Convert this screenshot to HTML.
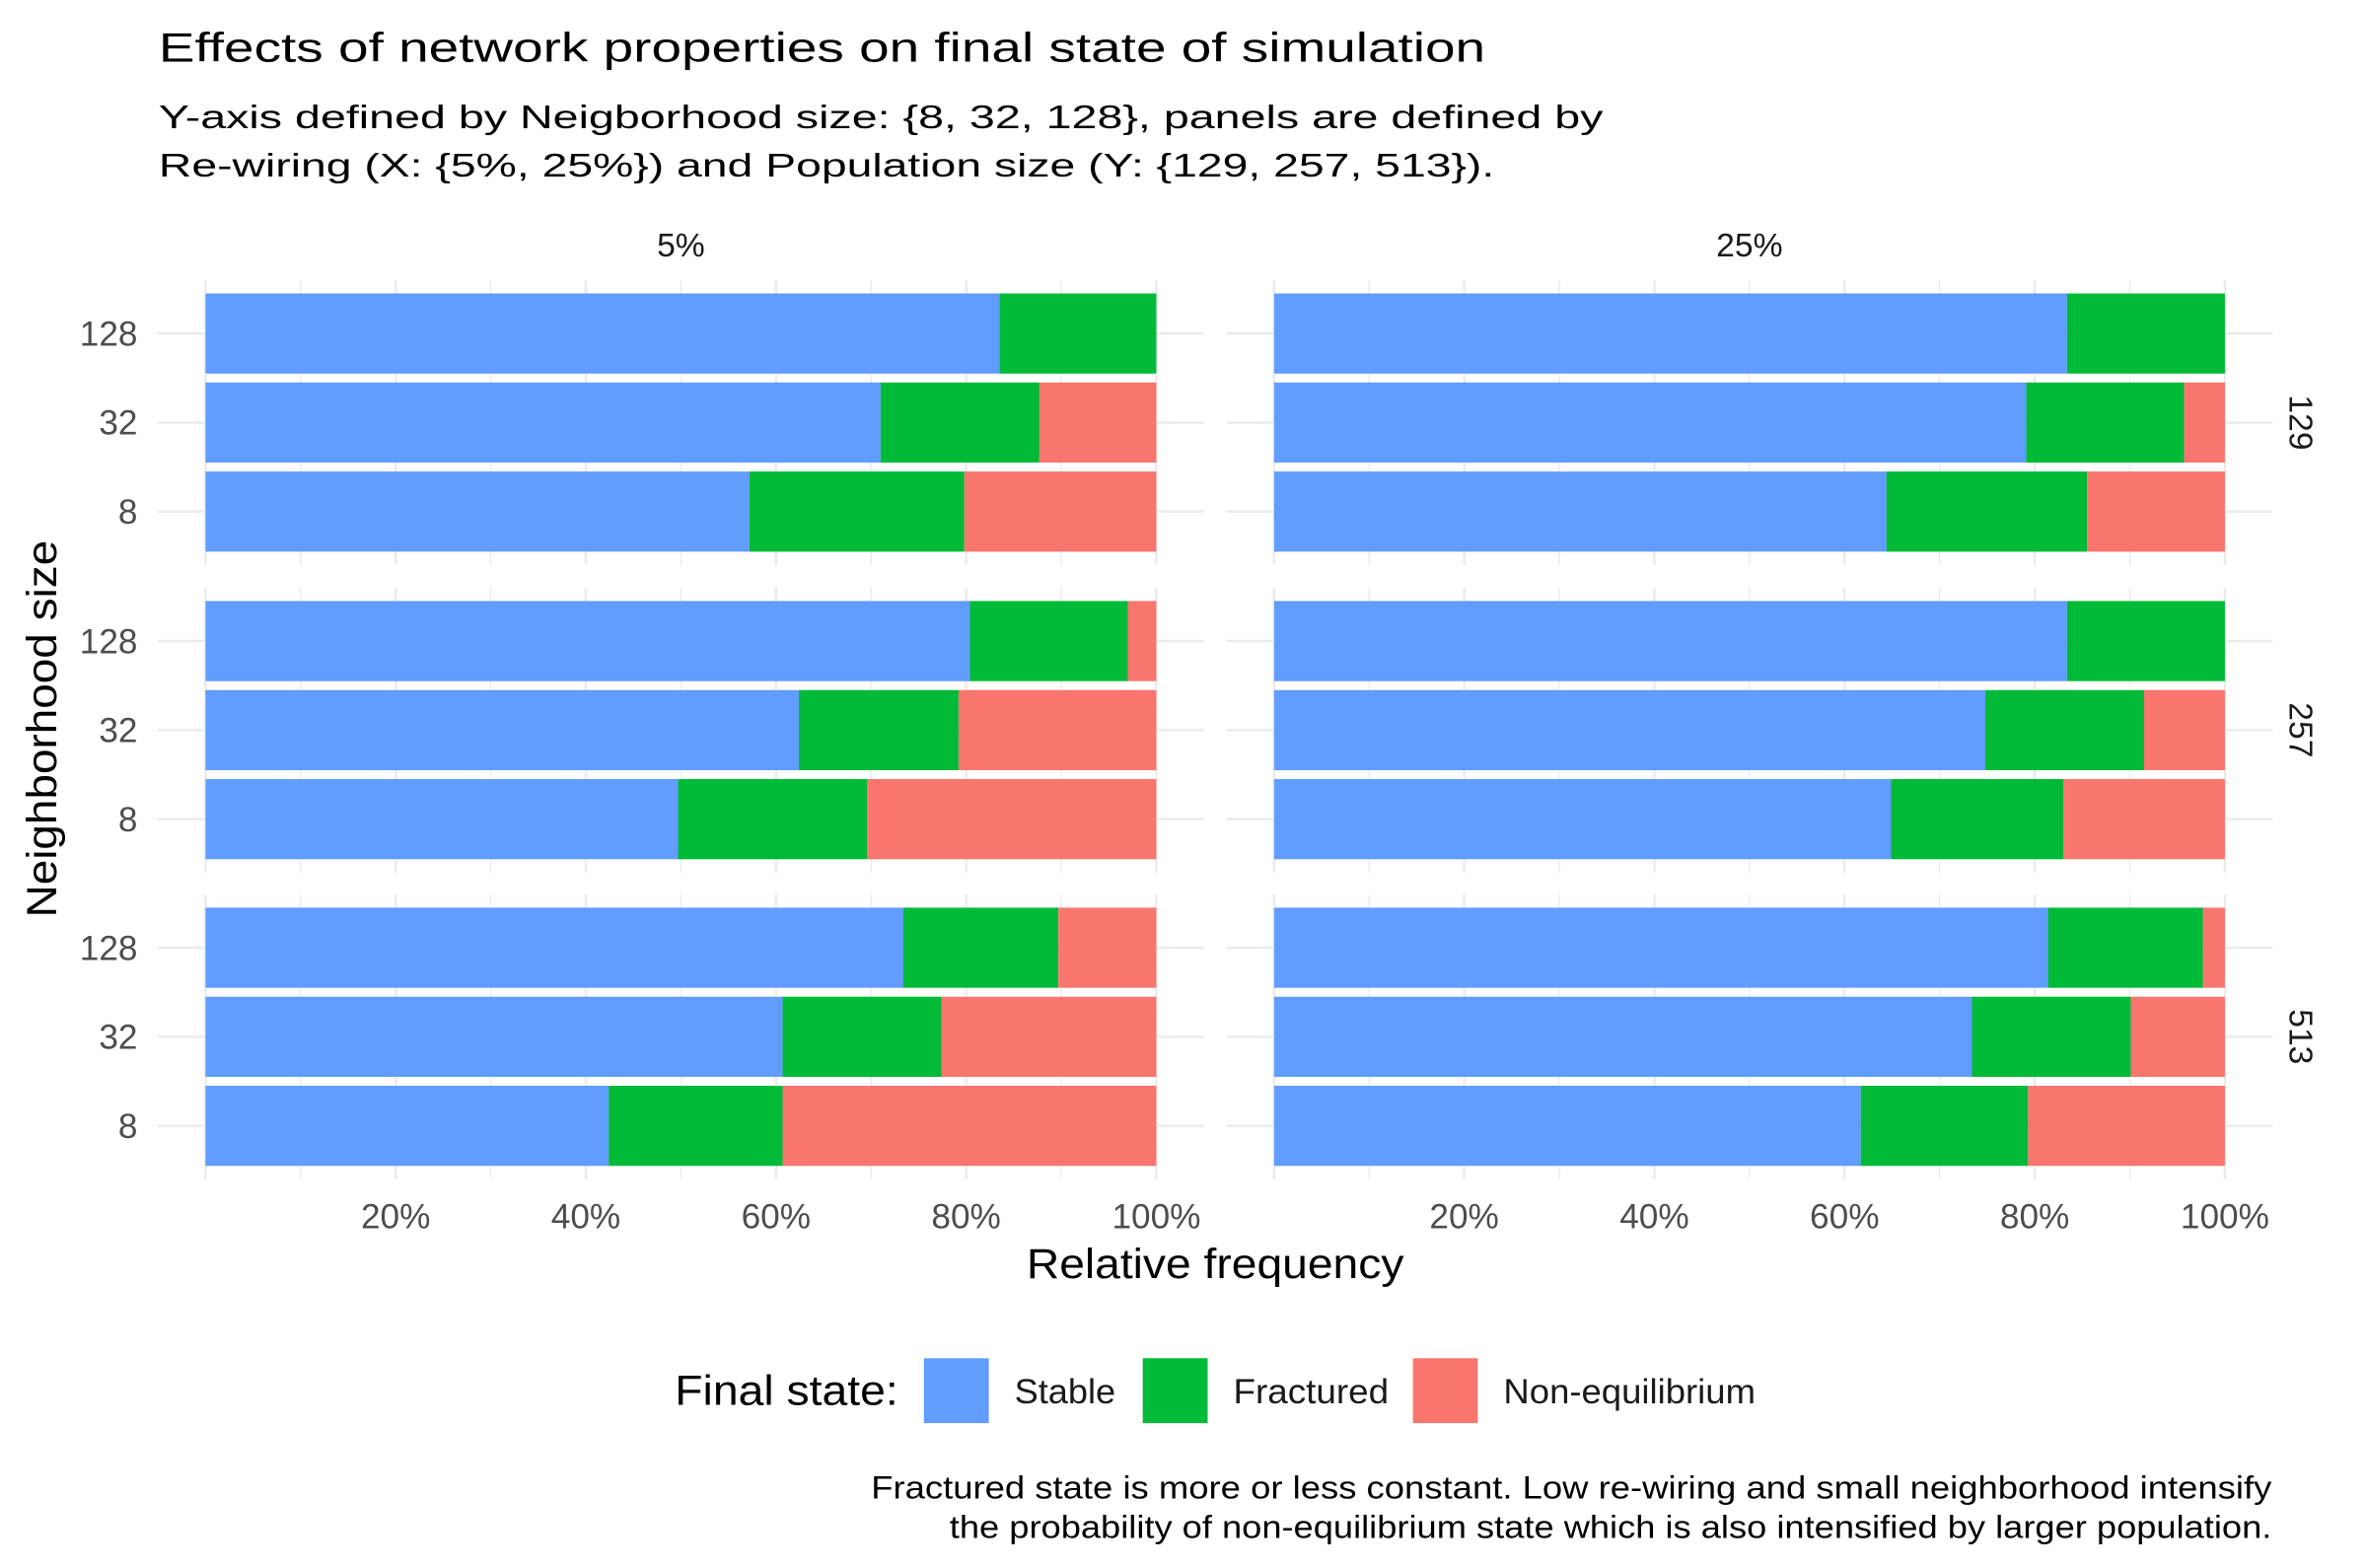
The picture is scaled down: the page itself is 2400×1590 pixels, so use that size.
<!DOCTYPE html>
<html><head><meta charset="utf-8"><style>
html,body{margin:0;padding:0;background:#fff;}
svg{display:block;font-family:"Liberation Sans",Arial,sans-serif;}
</style></head><body>
<svg id="chart" width="2400" height="1590" viewBox="0 0 1568 1039" xmlns="http://www.w3.org/2000/svg">
<rect width="1568" height="1039" fill="#fff"/>
<text x="105" y="41" font-size="27" fill="#000" textLength="879" lengthAdjust="spacingAndGlyphs">Effects of network properties on final state of simulation</text>
<text x="105" y="85" font-size="22" fill="#000" textLength="957" lengthAdjust="spacingAndGlyphs">Y-axis defined by Neigborhood size: {8, 32, 128}, panels are defined by</text>
<text x="105" y="117" font-size="22" fill="#000" textLength="885" lengthAdjust="spacingAndGlyphs">Re-wiring (X: {5%, 25%}) and Population size (Y: {129, 257, 513}).</text>
<g id="plot"></g>
<text transform="translate(37,483) rotate(-90)" text-anchor="middle" font-size="28" fill="#000" textLength="250" lengthAdjust="spacingAndGlyphs">Neighborhood size</text>
<text x="805" y="847" text-anchor="middle" font-size="28" fill="#000" textLength="250" lengthAdjust="spacingAndGlyphs">Relative frequency</text>
<g>
<text x="447" y="931" font-size="28" fill="#000" textLength="148" lengthAdjust="spacingAndGlyphs">Final state:</text>
<rect x="612" y="900" width="43" height="43" fill="#619CFF"/>
<text x="672" y="930" font-size="23" fill="#1a1a1a" textLength="67" lengthAdjust="spacingAndGlyphs">Stable</text>
<rect x="757" y="900" width="43" height="43" fill="#00BA38"/>
<text x="817" y="930" font-size="23" fill="#1a1a1a" textLength="103" lengthAdjust="spacingAndGlyphs">Fractured</text>
<rect x="936" y="900" width="43" height="43" fill="#F8766D"/>
<text x="996" y="930" font-size="23" fill="#1a1a1a" textLength="167" lengthAdjust="spacingAndGlyphs">Non-equilibrium</text>
</g>
<text x="577" y="993" font-size="21" fill="#000" textLength="928" lengthAdjust="spacingAndGlyphs">Fractured state is more or less constant. Low re-wiring and small neighborhood intensify</text>
<text x="629" y="1019" font-size="21" fill="#000" textLength="876" lengthAdjust="spacingAndGlyphs">the probability of non-equilibrium state which is also intensified by larger population.</text>
</svg>
<script>
const rewiring = ["5%", "25%"];
const population = ["129", "257", "513"];
const neighborhood = ["128", "32", "8"];
const xTicks = [20, 40, 60, 80, 100];
const xTickLabels = ["20%", "40%", "60%", "80%", "100%"];
// stable[population][neighborhood]
const stable5 = [[83.5, 71.0, 57.2], [80.4, 62.4, 49.7], [73.4, 60.7, 42.4]];
const fractured5 = [[16.5, 16.7, 22.6], [16.6, 16.8, 19.9], [16.3, 16.7, 18.3]];
const stable25 = [[83.4, 79.1, 64.4], [83.4, 74.8, 64.9], [81.4, 73.4, 61.7]];
const fractured25 = [[16.6, 16.6, 21.1], [16.6, 16.7, 18.1], [16.3, 16.7, 17.6]];

const NS = "http://www.w3.org/2000/svg";
const plot = document.getElementById("plot");
const stableAll = [stable5, stable25];
const fracAll = [fractured5, fractured25];
const panelX0 = [136, 844], panelW = 630;
const rowTop = [185.6, 389.4, 592.6], unit = 59;
function xs(p, v) { return panelX0[p] + v / 100 * panelW; }
function ys(r, i) { return rowTop[r] + (0.6 + i) * unit; }
function mk(tag, attrs) { const e = document.createElementNS(NS, tag); for (const k in attrs) e.setAttribute(k, attrs[k]); plot.appendChild(e); return e; }

for (let p = 0; p < 2; p++) {
  const t = mk("text", { x: xs(p, 50), y: 170, "text-anchor": "middle", "font-size": 22, fill: "#1a1a1a" });
  t.textContent = rewiring[p];
  
  
  for (let r = 0; r < 3; r++) {
    const top = rowTop[r], bot = rowTop[r] + 3.2 * unit;
    for (let g = 0; g <= 10; g++) {
      const v = g * 10;
      const l = mk("line", { x1: xs(p, v), x2: xs(p, v), y1: top, y2: bot, stroke: "#EBEBEB", "stroke-width": g % 2 === 0 ? 1.6 : 0.9 });
      
      
    }
    for (let i = 0; i < 3; i++) {
      const l = mk("line", { x1: xs(p, -5), x2: xs(p, 105), y1: ys(r, i), y2: ys(r, i), stroke: "#EBEBEB", "stroke-width": 1.6 });
      
      
      const s = stableAll[p][r][i], f = fracAll[p][r][i];
      const y = ys(r, i) - 0.45 * unit, h = 0.9 * unit;
      const b1 = mk("rect", { x: xs(p, 0), y: y, width: xs(p, s) - xs(p, 0), height: h, fill: "#619CFF" });
      
      
      const b2 = mk("rect", { x: xs(p, s), y: y, width: xs(p, s + f) - xs(p, s), height: h, fill: "#00BA38" });
      
      
      const b3 = mk("rect", { x: xs(p, s + f), y: y, width: Math.max(0, xs(p, 100) - xs(p, s + f)), height: h, fill: "#F8766D" });
      
      
      if (p === 0) {
        const tl = mk("text", { x: 91, y: ys(r, i) + 8, "text-anchor": "end", "font-size": 23, fill: "#4d4d4d" });
        tl.textContent = neighborhood[i];
        
        
      }
    }
    if (p === 1) {
      const cy = ys(r, 1);
      const sl = mk("text", { transform: `translate(1517,${cy}) rotate(90)`, "text-anchor": "middle", "font-size": 22, fill: "#1a1a1a" });
      sl.textContent = population[r];
      
      
    }
  }
  xTicks.forEach((v, k) => {
    const tl = mk("text", { x: xs(p, v), y: 814, "text-anchor": "middle", "font-size": 23, fill: "#4d4d4d" });
    tl.textContent = xTickLabels[k];
    
    
  });
}
</script>
</body></html>
